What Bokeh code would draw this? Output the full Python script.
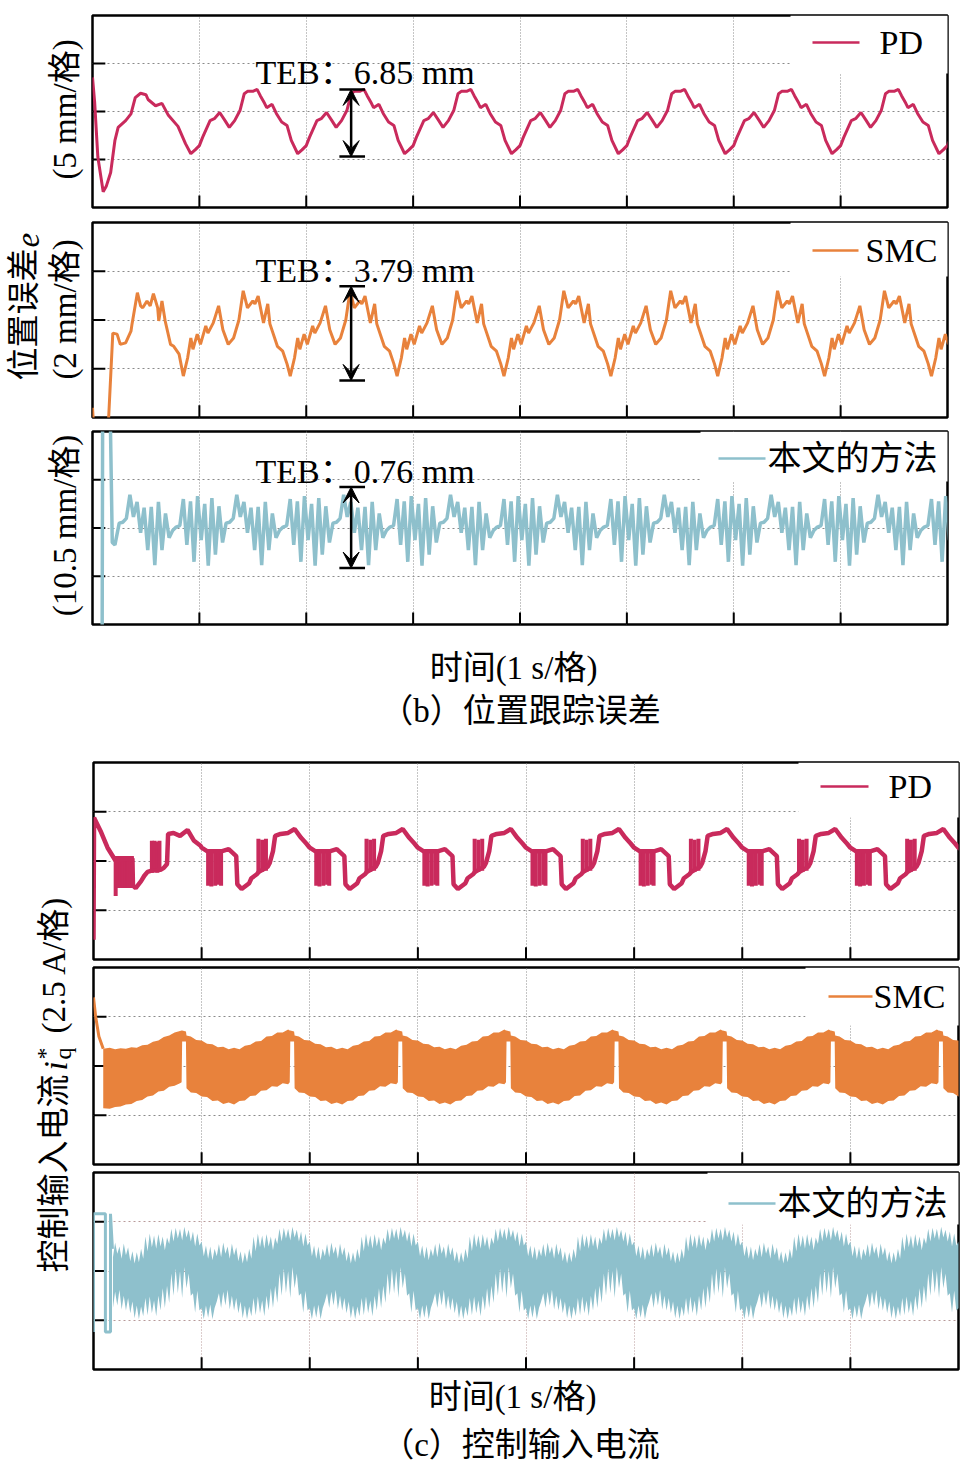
from bokeh.plotting import figure
from bokeh.layouts import column, row
from bokeh.models import Range1d, FixedTicker, Label, Arrow, VeeHead, BoxAnnotation
from bokeh.embed import file_html
from bokeh.resources import INLINE

FONT = "Liberation Serif, Noto Sans CJK SC"
C_PD = "#c92a5c"
C_SMC = "#e8823c"
C_OUR = "#8ec0cc"

T_MAX = 8.0
CYCLE_STARTS = [0, 1, 2, 3, 4, 5, 6, 7, 8]   # the traces repeat with a 1 s period
X_TICKS = [1, 2, 3, 4, 5, 6, 7]
Y_TICKS = [-1, 0, 1]
X_TICK_LEN = 0.25     # inward tick length on the time axis (grid divisions)
Y_TICK_LEN = 0.12     # inward tick length on the value axis (s)

# ---------------- (b) position tracking error (values in grid divisions) ----------------
PD_ERR_T0 = [0.00, 0.02, 0.05, 0.10, 0.13, 0.17, 0.21, 0.24, 0.31, 0.36, 0.40, 0.45, 0.50, 0.52, 0.59, 0.65, 0.71, 0.80, 0.87]
PD_ERR_Y0 = [0.71, 0.20, -0.95, -1.67, -1.55, -1.27, -0.60, -0.33, -0.19, -0.05, 0.29, 0.38, 0.35, 0.25, 0.12, 0.17, -0.08, -0.31, -0.67]
PD_ERR_OFF = [0.92, 0.96, 1.00, 1.03, 1.10, 1.14, 1.19, 1.24, 1.28, 1.33, 1.38, 1.42, 1.45, 1.50, 1.54, 1.57, 1.61, 1.63, 1.68, 1.72, 1.77, 1.82, 1.86]
PD_ERR_Y = [-0.88, -0.80, -0.71, -0.54, -0.19, -0.15, -0.02, -0.19, -0.33, -0.19, 0.02, 0.37, 0.42, 0.42, 0.46, 0.33, 0.17, 0.08, 0.15, -0.04, -0.22, -0.29, -0.60]

SMC_ERR_T0 = [0.00, 0.02, 0.14, 0.19, 0.23, 0.26, 0.31, 0.36, 0.37, 0.42, 0.45, 0.47, 0.51, 0.54, 0.57, 0.61, 0.62, 0.65, 0.68, 0.73, 0.76, 0.81]
SMC_ERR_Y0 = [-1.80, -2.50, -2.50, -0.27, -0.29, -0.50, -0.47, -0.23, -0.08, 0.56, 0.29, 0.25, 0.39, 0.29, 0.54, 0.25, -0.02, 0.39, -0.02, -0.50, -0.54, -0.70]
SMC_ERR_OFF = [0.85, 0.89, 0.92, 0.94, 0.98, 1.01, 1.06, 1.08, 1.13, 1.18, 1.22, 1.27, 1.32, 1.37, 1.41, 1.45, 1.50, 1.52, 1.55, 1.60, 1.64, 1.66, 1.73, 1.78, 1.82]
SMC_ERR_Y = [-1.15, -0.78, -0.37, -0.60, -0.29, -0.50, -0.12, -0.27, -0.06, 0.29, -0.20, -0.50, -0.37, 0.00, 0.60, 0.25, 0.39, 0.33, 0.49, -0.06, 0.33, -0.08, -0.54, -0.64, -0.90]

OUR_ERR_T0 = [0.00, 0.09, 0.095, 0.165, 0.185, 0.21]
OUR_ERR_Y0 = [-2.5, -2.5, 2.5, 2.5, -0.30, -0.35]
OUR_ERR_OFF = [0.250, 0.283, 0.317, 0.350, 0.383, 0.417, 0.450, 0.483, 0.517, 0.550,
               0.583, 0.617, 0.650, 0.683, 0.717, 0.750, 0.783, 0.817, 0.850, 0.883,
               0.917, 0.950, 0.983, 1.017, 1.050, 1.083, 1.117, 1.150, 1.183, 1.217]
OUR_ERR_Y = [0.10, 0.12, 0.20, 0.69, 0.23, 0.54, -0.10, 0.42, -0.46, 0.44,
             -0.77, 0.54, -0.46, 0.30, -0.20, -0.05, 0.02, 0.05, 0.60, -0.35,
             0.55, -0.70, 0.66, -0.25, 0.50, -0.78, 0.62, -0.55, 0.45, -0.30]

TEB_TEXT = ["TEB：6.85 mm", "TEB：3.79 mm", "TEB：0.76 mm"]
TEB_TEXT_X = 1.525
TEB_TEXT_Y = [0.82, 1.01, 1.17]
TEB_TOP = [0.46, 0.69, 0.85]
TEB_BOT = [-0.94, -1.24, -0.83]
ARROW_X = 2.42
CAP_X0, CAP_X1 = 2.31, 2.55

# ---------------- (c) control input current (values in grid divisions) ----------------
PD_CUR_T0 = [0.000, 0.005, 0.065, 0.13, 0.20, 0.36, 0.365, 0.39, 0.44, 0.47, 0.50, 0.53, 0.62, 0.65, 0.68, 0.69, 0.74, 0.80, 0.87, 0.93, 0.99]
PD_CUR_Y0 = [-1.60, 0.88, 0.61, 0.27, 0.02, 0.05, -0.50, -0.55, -0.41, -0.30, -0.22, -0.20, -0.18, -0.14, -0.06, 0.55, 0.57, 0.51, 0.63, 0.41, 0.31]
PD_CUR_STROKE_T0 = [0.205, 0.22, 0.235, 0.25, 0.265, 0.28, 0.295, 0.31, 0.325, 0.34, 0.355, 0.54, 0.565, 0.59, 0.61]
PD_CUR_STROKE_LO0 = [-0.71, -0.55, -0.55, -0.52, -0.55, -0.53, -0.55, -0.52, -0.55, -0.53, -0.55, -0.24, -0.22, -0.24, -0.20]
PD_CUR_STROKE_HI0 = [0.10, 0.10, 0.08, 0.10, 0.10, 0.08, 0.10, 0.10, 0.08, 0.10, 0.10, 0.41, 0.41, 0.39, 0.41]
PD_CUR_OFF = [0.00, 0.05, 0.19, 0.25, 0.32, 0.33, 0.37, 0.44, 0.46, 0.51, 0.53, 0.61, 0.63, 0.66, 0.68, 0.73, 0.80, 0.86, 0.92, 0.97]
PD_CUR_Y = [0.27, 0.20, 0.20, 0.24, 0.10, -0.47, -0.57, -0.45, -0.35, -0.27, -0.22, -0.12, -0.04, 0.20, 0.51, 0.55, 0.57, 0.65, 0.47, 0.35]
PD_CUR_STROKE_OFF = [0.06, 0.09, 0.125, 0.16, 0.18, 0.525, 0.56, 0.595]
PD_CUR_STROKE_LO = [-0.50, -0.52, -0.50, -0.48, -0.50, -0.25, -0.22, -0.20]
PD_CUR_STROKE_HI = [0.20, 0.20, 0.20, 0.20, 0.20, 0.45, 0.43, 0.45]

SMC_CUR_LINE_T = [0.00, 0.02, 0.05, 0.09]
SMC_CUR_LINE_Y = [1.39, 1.00, 0.60, 0.35]
SMC_CUR_T0 = [0.09, 0.15, 0.20, 0.25, 0.30, 0.35, 0.40, 0.45, 0.50, 0.55, 0.60, 0.65, 0.70, 0.75, 0.80, 0.815]
SMC_CUR_TOP0 = [0.35, 0.37, 0.34, 0.36, 0.35, 0.38, 0.37, 0.42, 0.43, 0.49, 0.52, 0.59, 0.62, 0.68, 0.71, 0.72]
SMC_CUR_BOT0 = [-0.86, -0.87, -0.83, -0.82, -0.78, -0.77, -0.71, -0.69, -0.62, -0.60, -0.52, -0.50, -0.42, -0.40, -0.35, -0.33]
SMC_CUR_OFF = [0.820, 0.855, 0.860, 0.90, 0.95, 1.00, 1.05, 1.10, 1.15, 1.20, 1.25, 1.30, 1.35, 1.40, 1.45, 1.50, 1.55, 1.60, 1.65, 1.70, 1.75, 1.80, 1.815]
SMC_CUR_TOP = [0.72, 0.70, 0.62, 0.60, 0.53, 0.52, 0.45, 0.44, 0.38, 0.39, 0.34, 0.37, 0.34, 0.41, 0.43, 0.50, 0.51, 0.60, 0.61, 0.68, 0.68, 0.74, 0.72]
SMC_CUR_BOT = [0.50, 0.50, -0.45, -0.54, -0.55, -0.62, -0.63, -0.71, -0.70, -0.77, -0.74, -0.78, -0.71, -0.70, -0.61, -0.60, -0.50, -0.49, -0.41, -0.42, -0.35, -0.37, -0.33]

OUR_CUR_LINE_T = [0.00, 0.00, 0.11, 0.11, 0.157, 0.157, 0.175]
OUR_CUR_LINE_Y = [-1.24, 1.16, 1.16, -1.24, -1.24, 1.16, 0.45]
OUR_CUR_OFF = [0.00, 0.02, 0.04, 0.06, 0.08, 0.10, 0.12, 0.14, 0.16, 0.18,
               0.20, 0.22, 0.24, 0.26, 0.28, 0.30, 0.32, 0.34, 0.36, 0.38,
               0.40, 0.42, 0.44, 0.46, 0.48, 0.50, 0.52, 0.54, 0.56, 0.58,
               0.60, 0.62, 0.64, 0.66, 0.68, 0.70, 0.72, 0.74, 0.76, 0.78,
               0.80, 0.82, 0.84, 0.86, 0.88, 0.90, 0.92, 0.94, 0.96, 0.98]
OUR_CUR_TOP = [0.60, 0.30, 0.52, 0.25, 0.50, 0.22, 0.45, 0.30, 0.55, 0.28,
               0.58, 0.35, 0.50, 0.25, 0.56, 0.32, 0.48, 0.20, 0.40, 0.15,
               0.38, 0.18, 0.45, 0.25, 0.70, 0.40, 0.76, 0.48, 0.72, 0.45,
               0.75, 0.50, 0.70, 0.42, 0.68, 0.55, 0.86, 0.60, 0.88, 0.66,
               0.86, 0.62, 0.90, 0.68, 0.84, 0.60, 0.80, 0.50, 0.76, 0.52]
OUR_CUR_BOT = [-0.75, -0.98, -0.70, -0.95, -0.68, -0.98, -0.75, -0.62, -0.45, -0.75,
               -0.42, -0.70, -0.38, -0.78, -0.50, -0.80, -0.55, -0.86, -0.62, -0.96,
               -0.70, -0.98, -0.72, -0.92, -0.55, -0.90, -0.52, -0.86, -0.60, -0.92,
               -0.50, -0.80, -0.35, -0.75, -0.30, -0.65, -0.05, -0.50, 0.05, -0.45,
               0.00, -0.55, 0.08, -0.35, -0.05, -0.50, -0.45, -0.85, -0.40, -0.80]


def tile(offsets, values, t_from):
    ts, vs = [], []
    for k in CYCLE_STARTS:
        for o, v in zip(offsets, values):
            t = round(k + o, 4)
            if t_from <= t <= T_MAX + 0.05:
                ts.append(t)
                vs.append(v)
    return ts, vs


def series(t0, y0, off, ys, t_from):
    t1, y1 = tile(off, ys, t_from)
    return list(t0) + t1, list(y0) + y1


def make_panel(frame_w, frame_h, b_top, b_bottom, b_right, grid_color="#8a8a8a"):
    p = figure(frame_width=frame_w, frame_height=frame_h,
               x_range=Range1d(0, T_MAX), y_range=Range1d(-2, 2),
               output_backend="svg", toolbar_location=None, title_location=None,
               x_axis_location=None, y_axis_location=None,
               min_border_left=2, min_border_right=b_right,
               min_border_top=b_top, min_border_bottom=b_bottom)
    p.outline_line_color = "black"
    p.outline_line_width = 2.5
    p.background_fill_color = "white"
    p.border_fill_color = "white"
    p.xgrid.ticker = FixedTicker(ticks=X_TICKS)
    p.ygrid.ticker = FixedTicker(ticks=Y_TICKS)
    p.xgrid.grid_line_color = grid_color
    p.xgrid.grid_line_dash = "1 2"
    p.xgrid.grid_line_width = 1
    p.ygrid.grid_line_color = grid_color
    p.ygrid.grid_line_dash = "2 3"
    p.ygrid.grid_line_width = 1
    y0 = p.y_range.start
    x0 = p.x_range.start
    p.segment(x0=X_TICKS, x1=X_TICKS, y0=[y0] * len(X_TICKS), y1=[y0 + X_TICK_LEN] * len(X_TICKS),
              line_color="black", line_width=2)
    p.segment(x0=[x0] * len(Y_TICKS), x1=[x0 + Y_TICK_LEN] * len(Y_TICKS), y0=Y_TICKS, y1=Y_TICKS,
              line_color="black", line_width=2)
    return p


def add_key(p, fh, color, text, line_x0, line_x1, yc, text_x, box):
    # positions in pixels from the frame's left edge / top edge
    bl, br, bt, bb = box
    p.add_layout(BoxAnnotation(left=bl, right=br, top=fh - bt, bottom=fh - bb,
                               left_units="screen", right_units="screen",
                               top_units="screen", bottom_units="screen",
                               fill_color="white", fill_alpha=1.0, line_color=None))
    p.add_layout(Arrow(end=None, start=None, x_start=line_x0, x_end=line_x1,
                       y_start=fh - yc, y_end=fh - yc, start_units="screen", end_units="screen",
                       line_color=color, line_width=2.5))
    p.add_layout(Label(x=text_x, y=fh - yc, x_units="screen", y_units="screen", text=text,
                       text_font=FONT, text_font_size="34px", text_align="left",
                       text_baseline="middle", text_color="black"))


def add_teb(p, i):
    p.add_layout(Label(x=TEB_TEXT_X, y=TEB_TEXT_Y[i], text=TEB_TEXT[i], text_font=FONT,
                       text_font_size="34px", text_align="left", text_baseline="alphabetic",
                       text_color="black"))
    p.segment(x0=[CAP_X0, CAP_X0], x1=[CAP_X1, CAP_X1], y0=[TEB_TOP[i], TEB_BOT[i]],
              y1=[TEB_TOP[i], TEB_BOT[i]], line_color="black", line_width=2.5)
    p.add_layout(Arrow(start=VeeHead(size=16, fill_color="black", line_color="black"),
                       end=VeeHead(size=16, fill_color="black", line_color="black"),
                       x_start=ARROW_X, y_start=TEB_BOT[i], x_end=ARROW_X, y_end=TEB_TOP[i],
                       line_color="black", line_width=2.5))


def text_fig(w, h):
    p = figure(width=w, height=h, x_range=Range1d(0, w), y_range=Range1d(0, h),
               output_backend="svg", toolbar_location=None, title_location=None,
               x_axis_location=None, y_axis_location=None,
               min_border_left=0, min_border_right=0, min_border_top=0, min_border_bottom=0)
    p.grid.visible = False
    p.outline_line_color = None
    p.background_fill_color = "white"
    p.border_fill_color = "white"
    return p


def add_text(p, text, x, y, size, angle=0, align="center", style="normal"):
    p.add_layout(Label(x=x, y=y, x_units="screen", y_units="screen", text=text,
                       angle=angle, angle_units="deg", text_font=FONT,
                       text_font_size=f"{size}px", text_font_style=style,
                       text_align=align, text_baseline="middle", text_color="black"))


# ---------------- group (b) ----------------
p1 = make_panel(855, 192, 15, 7, 15)
t, y = series(PD_ERR_T0, PD_ERR_Y0, PD_ERR_OFF, PD_ERR_Y, 0.9)
p1.line(t, y, line_color=C_PD, line_width=3)
add_key(p1, 192, C_PD, "PD", 720, 767, 27, 787, (698, 856, 0, 58))
add_teb(p1, 0)

p2 = make_panel(855, 195, 8, 7, 15)
t, y = series(SMC_ERR_T0, SMC_ERR_Y0, SMC_ERR_OFF, SMC_ERR_Y, 0.84)
p2.line(t, y, line_color=C_SMC, line_width=3)
add_key(p2, 195, C_SMC, "SMC", 720, 766, 28, 773, (698, 856, 0, 54))
add_teb(p2, 1)

p3 = make_panel(855, 193, 7, 3, 15)
t, y = series(OUR_ERR_T0, OUR_ERR_Y0, OUR_ERR_OFF, OUR_ERR_Y, 0.24)
p3.line(t, y, line_color=C_OUR, line_width=3.5)
add_key(p3, 193, C_OUR, "本文的方法", 626, 673, 27, 675, (608, 856, 0, 50))
add_teb(p3, 2)

lab_b = text_fig(90, 627)
add_text(lab_b, "(5 mm/格)", 64, 518, 33, angle=90)
add_text(lab_b, "位置误差", 23, 247, 33, angle=90, align="left")
add_text(lab_b, "e", 27, 380, 33, angle=90, align="left", style="italic")
add_text(lab_b, "(2 mm/格)", 64, 318, 33, angle=90)
add_text(lab_b, "(10.5 mm/格)", 64, 102, 33, angle=90)

txt_b = text_fig(962, 128)
add_text(txt_b, "时间(1 s/格)", 513, 88, 33)
add_text(txt_b, "（b）位置跟踪误差", 520, 45, 33)

# ---------------- group (c) ----------------
p4 = make_panel(865, 197, 7, 4, 4)
t, y = series(PD_CUR_T0, PD_CUR_Y0, PD_CUR_OFF, PD_CUR_Y, 1.0)
st, slo = tile(PD_CUR_STROKE_OFF, PD_CUR_STROKE_LO, 1.0)
_, shi = tile(PD_CUR_STROKE_OFF, PD_CUR_STROKE_HI, 1.0)
st = PD_CUR_STROKE_T0 + st
slo = PD_CUR_STROKE_LO0 + slo
shi = PD_CUR_STROKE_HI0 + shi
p4.segment(x0=st, x1=st, y0=slo, y1=shi, line_color=C_PD, line_width=4)
p4.line(t, y, line_color=C_PD, line_width=4.5)
add_key(p4, 197, C_PD, "PD", 727, 775, 24, 795, (705, 866, 0, 55))

p5 = make_panel(865, 197, 4, 4, 4)
bt, btop = series(SMC_CUR_T0, SMC_CUR_TOP0, SMC_CUR_OFF, SMC_CUR_TOP, 0.82)
_, bbot = series(SMC_CUR_T0, SMC_CUR_BOT0, SMC_CUR_OFF, SMC_CUR_BOT, 0.82)
p5.varea(x=bt, y1=bbot, y2=btop, fill_color=C_SMC)
p5.line(SMC_CUR_LINE_T, SMC_CUR_LINE_Y, line_color=C_SMC, line_width=3)
add_key(p5, 197, C_SMC, "SMC", 735, 779, 29, 780, (712, 866, 0, 58))

p6 = make_panel(865, 197, 4, 3, 4, grid_color="#b89a9a")
bt, btop = tile(OUR_CUR_OFF, OUR_CUR_TOP, 0.175)
_, bbot = tile(OUR_CUR_OFF, OUR_CUR_BOT, 0.175)
p6.varea(x=bt, y1=bbot, y2=btop, fill_color=C_OUR)
p6.line(OUR_CUR_LINE_T, OUR_CUR_LINE_Y, line_color=C_OUR, line_width=3)
add_key(p6, 197, C_OUR, "本文的方法", 635, 682, 31, 684, (614, 866, 0, 52))

lab_c = text_fig(91, 617)
add_text(lab_c, "控制输入电流", 53, 100, 33, angle=90, align="left")
add_text(lab_c, "i", 55, 302, 33, angle=90, align="left", style="italic")
add_text(lab_c, "*", 44, 313, 24, angle=90, align="left")
add_text(lab_c, "q", 62, 313, 24, angle=90, align="left")
add_text(lab_c, "(2.5 A/格)", 53, 339, 33, angle=90, align="left")

txt_c = text_fig(962, 96)
add_text(txt_c, "时间(1 s/格)", 512, 72, 33)
add_text(txt_c, "（c）控制输入电流", 520, 24, 33)

layout = column(row(lab_b, column(p1, p2, p3)), txt_b,
                row(lab_c, column(p4, p5, p6)), txt_c)

open("out.html", "w").write(file_html(layout, INLINE))
